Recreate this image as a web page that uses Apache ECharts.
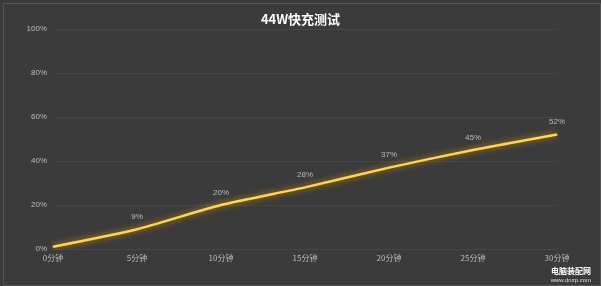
<!DOCTYPE html>
<html><head><meta charset="utf-8">
<script src="https://cdn.jsdelivr.net/npm/echarts@6/dist/echarts.min.js"></script>
<style>html,body{margin:0;padding:0;background:#3b3b3b}#c{width:601px;height:286px}</style>
</head><body><div id="c"></div>
<script>
var categories = ['0分钟','5分钟','10分钟','15分钟','20分钟','25分钟','30分钟'];
var values = [1, 9, 20, 28, 37, 45, 52];
var labels = ['', '9%', '20%', '28%', '37%', '45%', '52%'];
var yTicks = [0, 20, 40, 60, 80, 100];

var chart = echarts.init(document.getElementById('c'));
chart.setOption({
  backgroundColor: '#3b3b3b',
  animation: false,
  title: {
    text: '44W快充测试', left: 'center', top: 8,
    textStyle: { color: '#ffffff', fontSize: 13, fontWeight: 'bold', fontFamily: 'Noto Sans CJK SC' }
  },
  grid: { left: 53, right: 44, top: 29, bottom: 37 },
  xAxis: {
    type: 'category', data: categories, boundaryGap: false,
    axisLine: { show: false }, axisTick: { show: false },
    axisLabel: { color: '#bdbdbd', fontSize: 8, margin: 5, fontFamily: 'Noto Sans CJK SC' }
  },
  yAxis: {
    type: 'value', min: yTicks[0], max: yTicks[yTicks.length-1], interval: 20,
    axisLine: { show: false }, axisTick: { show: false },
    axisLabel: { color: '#bdbdbd', fontSize: 8, margin: 6, formatter: '{value}%' },
    splitLine: { lineStyle: { color: '#464646', width: 1 } }
  },
  series: [{
    type: 'line', data: values, smooth: 0.2, symbol: 'circle', symbolSize: 1, showSymbol: true,
    itemStyle: { color: '#ffd84a' },
    lineStyle: { color: '#ffd84a', width: 2.5, shadowColor: 'rgba(230,150,0,0.9)', shadowBlur: 6 },
    label: {
      show: true, position: 'top', distance: 8, color: '#bdbdbd', fontSize: 8,
      formatter: function (p) { return labels[p.dataIndex]; }
    }
  }],
  graphic: [
    { type: 'rect', left: 1, top: 1, shape: { width: 597, height: 282 }, style: { fill: 'none', stroke: '#555555', lineWidth: 1 } },
    { type: 'text', right: 10, bottom: 11, style: { text: '电脑装配网', fill: '#ffffff', font: 'bold 8px "Noto Sans CJK SC"' } },
    { type: 'text', right: 10, bottom: 3, style: { text: 'www.dnzp.com', fill: '#dddddd', font: '6px sans-serif' } }
  ]
});
</script></body></html>
